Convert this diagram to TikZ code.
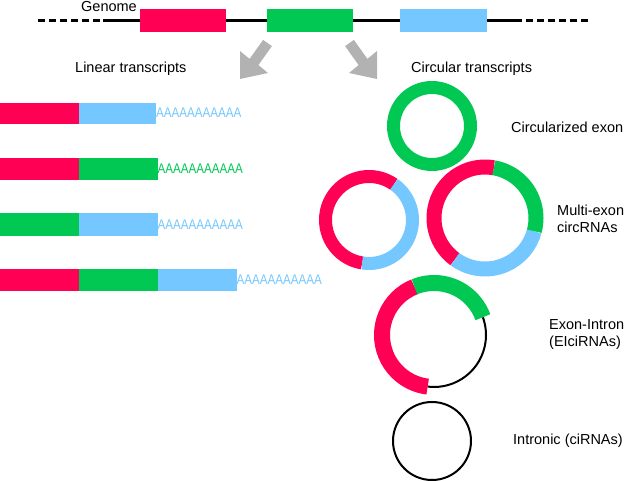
\documentclass[tikz,border=0pt]{standalone}
\usepackage{fontspec}
\setmainfont{Liberation Sans}
\usepackage{graphicx}
\definecolor{exred}{RGB}{255,0,85}
\definecolor{exgreen}{RGB}{0,200,83}
\definecolor{exblue}{RGB}{117,200,255}
\definecolor{arrowgray}{RGB}{178,178,178}
\begin{document}
\begin{tikzpicture}[x=1pt,y=1pt,
  lbl/.style={anchor=base west, inner sep=0pt, font=\fontsize{14.5}{17}\selectfont},
  polyA/.style={anchor=base west, inner sep=0pt, font=\fontsize{14}{16}\selectfont},
  genomeline/.style={line width=3pt, black},
  intron/.style={line width=2pt, black},
  bigarrow/.style={fill=arrowgray, draw=none}]
\useasboundingbox (0,0) rectangle (625,-481);

% ---------- genome ----------
\draw[genomeline, dash pattern=on 7pt off 4pt] (38,-21) -- (101,-21);
\draw[genomeline] (103,-21) -- (522,-21);
\draw[genomeline, dash pattern=on 7pt off 4pt] (526,-21) -- (589,-21);
\fill[exred]   (140,-9) rectangle (226,-32);
\fill[exgreen] (267,-9) rectangle (353,-32);
\fill[exblue]  (400,-9) rectangle (487,-32);
\node[lbl] (genome) at (81,-11.5) {Genome};

% ---------- arrows ----------
\fill[bigarrow] (263.1,-39.9) -- (271.9,-46.1) -- (258.4,-65.1) -- (268,-73) -- (240,-79) -- (240,-51) -- (249.6,-58.9) -- cycle;
\fill[bigarrow] (353.9,-39.9) -- (345.1,-46.1) -- (358.6,-65.1) -- (349,-73) -- (377,-79) -- (377,-51) -- (367.4,-58.9) -- cycle;

\node[lbl] (lin) at (75,-73) {Linear transcripts};
\node[lbl] (circ) at (411,-73) {Circular transcripts};

% ---------- linear transcripts ----------
\fill[exred]  (0,-103) rectangle (78.5,-124);
\fill[exblue] (78.5,-103) rectangle (156,-124);
\node[polyA, text=exblue] (pa1) at (156,-118) {\scalebox{0.83}[1]{AAAAAAAAAAA}};

\fill[exred]   (0,-158) rectangle (78.5,-180);
\fill[exgreen] (78.5,-158) rectangle (157.5,-180);
\node[polyA, text=exgreen] (pa2) at (157.5,-174) {\scalebox{0.83}[1]{AAAAAAAAAAA}};

\fill[exgreen] (0,-213) rectangle (78.5,-236);
\fill[exblue]  (78.5,-213) rectangle (157.5,-236);
\node[polyA, text=exblue] (pa3) at (157.5,-229.5) {\scalebox{0.83}[1]{AAAAAAAAAAA}};

\fill[exred]   (0,-269) rectangle (78.5,-291);
\fill[exgreen] (78.5,-269) rectangle (157.5,-291);
\fill[exblue]  (157.5,-269) rectangle (236.5,-291);
\node[polyA, text=exblue] (pa4) at (236.5,-285) {\scalebox{0.83}[1]{AAAAAAAAAAA}};

% ---------- circular transcripts ----------
% circularized exon
\draw[exgreen, line width=13pt] (432,-126) circle[radius=38.5pt];
\node[lbl] (l1) at (511,-133) {Circularized exon};

% multi-exon left
\draw[exred,  line width=13pt] (369,-220) ++(55:43.5pt) arc[start angle=55, end angle=261, radius=43.5pt];
\draw[exblue, line width=13pt] (369,-220) ++(261:43.5pt) arc[start angle=261, end angle=415, radius=43.5pt];

% multi-exon right
\draw[exred,   line width=15pt] (485,-218) ++(80:51pt) arc[start angle=80, end angle=234, radius=51pt];
\draw[exblue,  line width=15pt] (485,-218) ++(234:51pt) arc[start angle=234, end angle=345, radius=51pt];
\draw[exgreen, line width=15pt] (485,-218) ++(-15:51pt) arc[start angle=-15, end angle=80, radius=51pt];
\node[lbl] (l2a) at (557,-216) {Multi-exon};
\node[lbl] (l2b) at (557,-233) {circRNAs};

% exon-intron
\draw[intron] (434,-335) ++(-97:52pt) arc[start angle=-97, end angle=20, radius=52pt];
\draw[exred,   line width=16pt] (434,-335) ++(112:52pt) arc[start angle=112, end angle=263, radius=52pt];
\draw[exgreen, line width=16pt] (434,-335) ++(20:52pt) arc[start angle=20, end angle=112, radius=52pt];
\node[lbl] (l3a) at (549,-330) {Exon-Intron};
\node[lbl] (l3b) at (549,-347) {(EIciRNAs)};

% intronic
\draw[intron] (432,-441) circle[radius=39pt];
\node[lbl] (l4) at (513,-445) {Intronic (ciRNAs)};
\end{tikzpicture}
\end{document}
